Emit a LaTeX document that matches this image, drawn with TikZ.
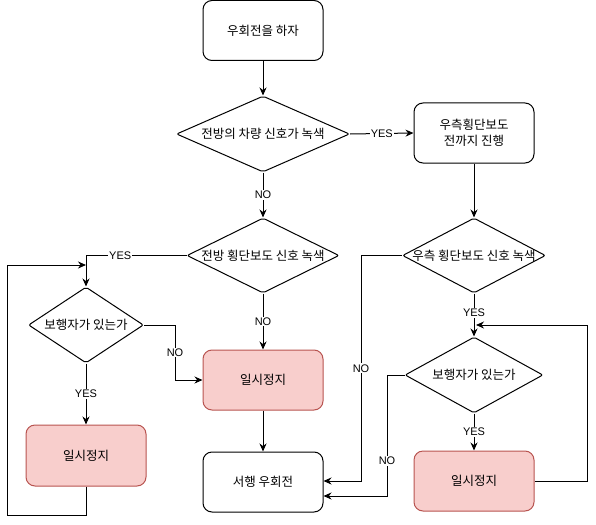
\documentclass[tikz,border=0pt]{standalone}
\usepackage{fontspec}
\setmainfont{Liberation Sans}
\newfontfamily\kr{Noto Sans CJK KR}
\usetikzlibrary{shapes.geometric,arrows.meta}
\definecolor{pinkfill}{HTML}{F8CECC}
\definecolor{pinkdraw}{HTML}{B85450}
\tikzset{
  proc/.style={draw=black, line width=1pt, rounded corners=9pt, minimum width=120pt, minimum height=60pt, align=center, font=\kr\fontsize{12.5}{16}\selectfont, inner sep=0pt},
  stopbox/.style={proc, fill=pinkfill, draw=pinkdraw},
  dec/.style={draw=black, line width=1pt, shape=diamond, inner sep=0pt, rounded corners=2pt},
  dectext/.style={font=\kr\fontsize{12.5}{16}\selectfont, inner sep=0pt},
  arr/.style={draw=black, line width=1pt, -{Stealth[length=8pt,width=7pt]}},
  ln/.style={draw=black, line width=1pt},
  lab/.style={fill=white, font=\fontsize{11}{13}\selectfont, inner sep=1pt}
}
\begin{document}
\begin{tikzpicture}[x=1pt,y=-1pt]
\useasboundingbox (0,0) rectangle (596,524);
% nodes
\node[proc] (start) at (263,30.5) {우회전을 하자};
\node[dec, minimum width=173pt, minimum height=76pt] (d1) at (263,134) {};
\node[dectext] at (d1) {전방의 차량 신호가 녹색};
\node[proc] (rbox) at (474,133) {우측횡단보도\\전까지 진행};
\node[dec, minimum width=152pt, minimum height=75pt] (d2) at (263,255.5) {};
\node[dectext] at (d2) {전방 횡단보도 신호 녹색};
\node[dec, minimum width=143pt, minimum height=75pt] (dr1) at (474,255.5) {};
\node[dectext] at (dr1) {우측 횡단보도 신호 녹색};
\node[dec, minimum width=115pt, minimum height=76pt] (d3) at (86,325) {};
\node[dectext] at (d3) {보행자가 있는가};
\node[stopbox] (stop1) at (263,380) {일시정지};
\node[stopbox, minimum height=61pt] (stopl) at (86,455.5) {일시정지};
\node[proc] (slow) at (263,482) {서행 우회전};
\node[dec, minimum width=138pt, minimum height=76pt] (dr2) at (474,375) {};
\node[dectext] at (dr2) {보행자가 있는가};
\node[stopbox] (stopr) at (474,481) {일시정지};
\coordinate (jl) at (86,265);
\coordinate (jr) at (476,325);
% connectors
\draw[arr] (start) -- (d1);
\draw[arr] (d1.east) -- node[lab]{YES} (rbox.west);
\draw[arr] (d1) -- node[lab, pos=0.5]{NO} (d2);
\draw[arr] (rbox) -- (dr1);
\draw[arr] (d2.west) -- node[lab, pos=0.66]{YES} (86,255.5) -- (d3.north);
\draw[arr] (d3.east) -- (175,325) -- node[lab, pos=0.5]{NO} (175,380) -- (stop1.west);
\draw[arr] (d2) -- node[lab, pos=0.5]{NO} (stop1);
\draw[arr] (stop1) -- (slow);
\draw[arr] (d3) -- node[lab, pos=0.5]{YES} (stopl);
\draw[arr] (stopl.south) -- (86,515) -- (7,515) -- (7,265) -- (jl);
\draw[arr] (dr1) -- node[lab, pos=0.45]{YES} (dr2);
\draw[arr] (dr2) -- node[lab, pos=0.5]{YES} (stopr);
\draw[arr] (stopr.east) -- (587,481) -- (587,325) -- (jr);
\draw[arr] (dr1.west) -- (361,255.5) -- node[lab, pos=0.5]{NO} (361,481) -- ([yshift=1pt]slow.east);
\draw[arr] (dr2.west) -- (387,375) -- node[lab, pos=0.71]{NO} (387,496) -- ([yshift=-14pt]slow.east);
\end{tikzpicture}
\end{document}
